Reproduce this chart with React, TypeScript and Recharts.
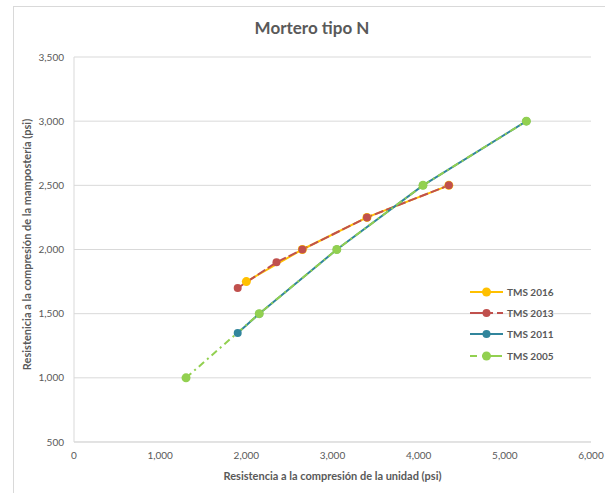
import React from 'react';
import { LineChart, Line, XAxis, YAxis, CartesianGrid } from 'recharts';

// unit strength (psi) vs masonry strength (psi)
const tms2016X = [2000, 2650, 3400, 4350];
const tms2016Y = [1750, 2000, 2250, 2500];
const tms2013X = [1900, 2350, 2650, 3400, 4350];
const tms2013Y = [1700, 1900, 2000, 2250, 2500];
const tms2011X = [1900, 2150, 3050, 4050, 5250];
const tms2011Y = [1350, 1500, 2000, 2500, 3000];
const tms2005X = [1300, 2150, 3050, 4050, 5250];
const tms2005Y = [1000, 1500, 2000, 2500, 3000];

const xTicks = [0, 1000, 2000, 3000, 4000, 5000, 6000];
const yTicks = [500, 1000, 1500, 2000, 2500, 3000, 3500];

const FONT = 'Lato, "Liberation Sans", sans-serif';
const GRAY = '#595959';
const GRID = '#D9D9D9';

const zip = (xs: number[], ys: number[]) => xs.map((x, i) => ({ x, y: ys[i] }));

const series = [
  { name: 'TMS 2016', color: '#FFC000', dash: undefined, legendDash: undefined, r: 4.5, data: zip(tms2016X, tms2016Y) },
  { name: 'TMS 2013', color: '#C0504D', dash: '9 3', legendDash: '23 4 6 4', r: 4, data: zip(tms2013X, tms2013Y) },
  { name: 'TMS 2011', color: '#31859C', dash: undefined, legendDash: undefined, r: 4, data: zip(tms2011X, tms2011Y) },
  { name: 'TMS 2005', color: '#92D050', dash: '7 4 2 4', legendDash: '7 5 20 6', r: 4.5, data: zip(tms2005X, tms2005Y) },
];

const fmt = (v: number) => v.toLocaleString('en-US');

const LegendBox = () => (
  <div style={{ position: 'absolute', left: 470, top: 281, fontFamily: FONT }}>
    {series.map((s) => (
      <div key={s.name} style={{ display: 'flex', alignItems: 'center', height: 21.3 }}>
        <svg width={36} height={12}>
          <line x1={0} y1={6} x2={33} y2={6} stroke={s.color} strokeWidth={2} strokeDasharray={s.legendDash} />
          <circle cx={16.5} cy={6} r={s.r} fill={s.color} />
        </svg>
        <span style={{ fontSize: 10, fontWeight: 700, color: GRAY, marginLeft: 1 }}>{s.name}</span>
      </div>
    ))}
  </div>
);

export default function App() {
  return (
    <div style={{ position: 'absolute', left: 0, top: 0, width: 605, height: 493, overflow: 'hidden', background: '#fff' }}>
      <div style={{ position: 'absolute', left: 13, top: 6, width: 620, height: 520, border: `1px solid ${GRID}` }} />
      <div style={{ position: 'absolute', left: 14, width: 596, top: 17, textAlign: 'center', fontFamily: FONT, fontWeight: 700, fontSize: 17, color: GRAY }}>
        Mortero tipo N
      </div>
      <div style={{ position: 'absolute', left: 0, top: 0 }}>
        <LineChart width={605} height={493} margin={{ top: 57, right: 14, left: 14, bottom: 21 }}>
          <CartesianGrid vertical={false} stroke={GRID} strokeWidth={1} />
          <XAxis
            type="number"
            dataKey="x"
            domain={[0, 6000]}
            ticks={xTicks}
            tickFormatter={fmt}
            height={30}
            axisLine={{ stroke: GRID }}
            tickLine={false}
            tickMargin={4}
            tick={{ fill: GRAY, fontSize: 10, fontFamily: FONT }}
            allowDataOverflow
            label={{ value: 'Resistencia a la compresión de la unidad (psi)', position: 'center', dy: 19, fill: GRAY, fontSize: 11, fontWeight: 700, fontFamily: FONT }}
          />
          <YAxis
            type="number"
            dataKey="y"
            domain={[500, 3500]}
            ticks={yTicks}
            tickFormatter={fmt}
            width={60}
            axisLine={{ stroke: GRID }}
            tickLine={false}
            tickMargin={4}
            tick={{ fill: GRAY, fontSize: 10, fontFamily: FONT }}
            allowDataOverflow
            label={{ value: 'Resistenicia a la compresión de la mampostería (psi)', angle: -90, position: 'center', dx: -17, dy: -5, fill: GRAY, fontSize: 11, fontWeight: 700, fontFamily: FONT }}
          />
          {series.map((s) => (
            <Line
              key={s.name}
              data={s.data}
              dataKey="y"
              name={s.name}
              type="linear"
              stroke={s.color}
              strokeWidth={2}
              strokeDasharray={s.dash}
              dot={{ r: s.r, fill: s.color, stroke: s.color, strokeWidth: 0 }}
              activeDot={false}
              isAnimationActive={false}
            />
          ))}
        </LineChart>
      </div>
      <LegendBox />
    </div>
  );
}
